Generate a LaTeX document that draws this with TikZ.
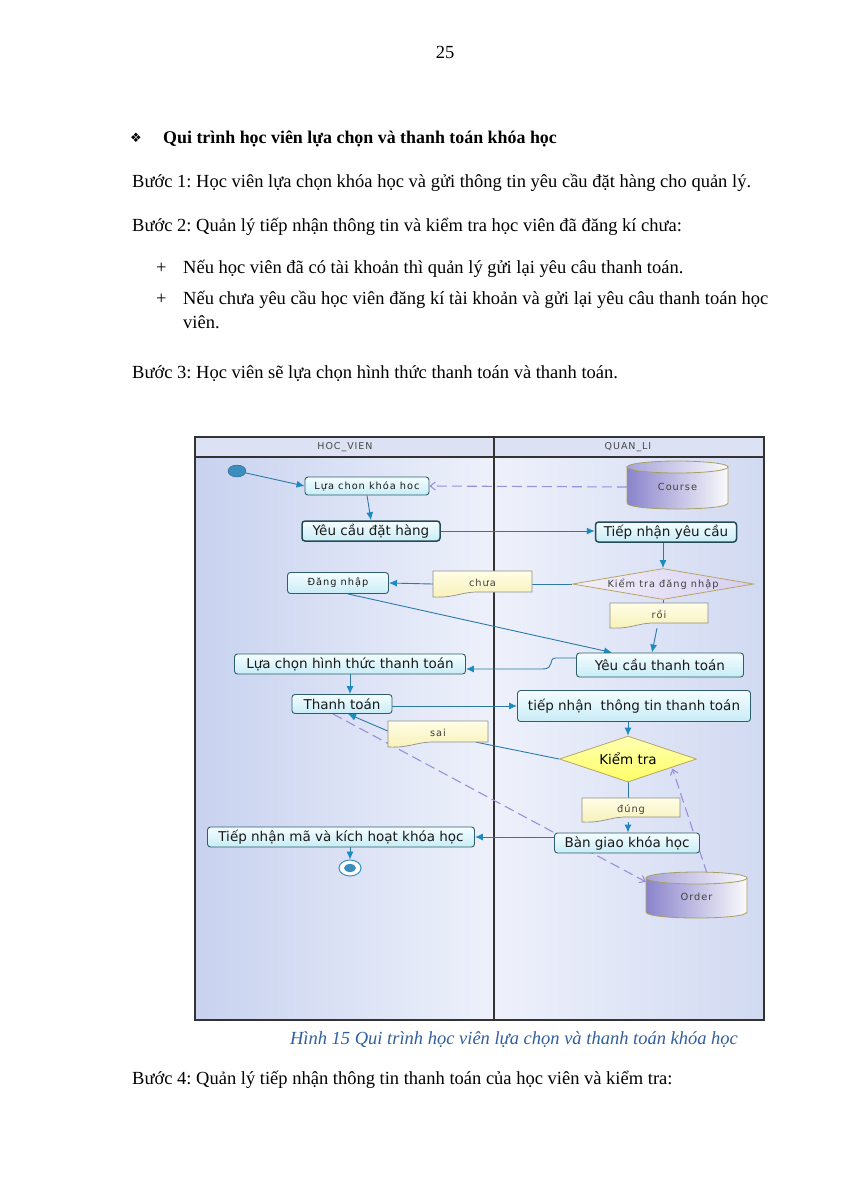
\documentclass[tikz,border=0pt]{standalone}
\usepackage{fontspec}
\setmainfont{Liberation Serif}
\newfontfamily\dia{DejaVu Sans}
\newfontfamily\diasmall[LetterSpace=10]{DejaVu Sans}
\newfontfamily\symf{DejaVu Sans}
\usetikzlibrary{shapes.geometric,arrows.meta,calc}
\pgfdeclarelayer{lanes}
\pgfdeclarelayer{wires}
\pgfsetlayers{lanes,wires,main}
\frenchspacing
\definecolor{laneA}{HTML}{C8D2EF}
\definecolor{laneB}{HTML}{EEF1FB}
\definecolor{hdr}{HTML}{DCE2F4}
\definecolor{frameC}{HTML}{333333}
\definecolor{wire}{HTML}{2C78A8}
\definecolor{arrowc}{HTML}{1C8BC0}
\definecolor{dashc}{HTML}{9A8FD8}
\definecolor{boxT}{HTML}{F4FDFF}
\definecolor{boxB}{HTML}{C8ECF6}
\definecolor{boxD}{HTML}{2E5E6C}
\definecolor{noteT}{HTML}{FFFDE6}
\definecolor{noteB}{HTML}{F7F1B8}
\definecolor{noteD}{HTML}{8E8E8E}
\definecolor{cylL}{HTML}{8A84CC}
\definecolor{cylR}{HTML}{FAFAFC}
\definecolor{cylB}{HTML}{A89E62}
\definecolor{diaB}{HTML}{B8A464}
\definecolor{lavL}{HTML}{F3F0FA}
\definecolor{lavR}{HTML}{D6CFF0}
\definecolor{capc}{HTML}{2F5F9E}
\definecolor{startc}{HTML}{3C8EC0}
\newcommand\notebox[6]{%
 \draw[notesh] (#2,#3) -- (#4,#3) -- (#4,{#5-5}) -- ({#2+0.45*(#4-#2)},{#5-5}) .. controls ({#2+0.28*(#4-#2)},{#5-5}) and ({#2+0.22*(#4-#2)},{#5+1}) .. (#2,#5) -- cycle;
 \node[notetxt, minimum width={#4-#2}, minimum height={#5-#3}] (#1) at ({(#2+#4)/2},{(#3+#5)/2}) {\raisebox{3pt}{#6}};}
\newcommand\cylbox[6]{%
 \shade[left color=cylL, right color=cylR, draw=cylB, line width=0.8pt] (#2,{#3+6}) -- (#2,{#5-6}) .. controls (#2,{#5+2}) and (#4,{#5+2}) .. (#4,{#5-6}) -- (#4,{#3+6}) -- cycle;
 \shade[left color=cylL!75, right color=cylR, draw=cylB, line width=0.8pt] ({(#2+#4)/2},{#3+6}) ellipse [x radius={(#4-#2)/2}, y radius=6];
 \node[cyltxt, minimum width={#4-#2}, minimum height={#5-#3}] (#1) at ({(#2+#4)/2},{(#3+#5)/2+2}) {#6};}
\tikzset{
 txt/.style={inner sep=0, anchor=base west, font=\fontsize{18.5}{22}\selectfont},
 bigf/.style={font=\dia\fontsize{13.5}{16}\selectfont},
 smallf/.style={font=\diasmall\fontsize{9.8}{12}\selectfont},
 abox/.style={rectangle, rounded corners=3pt, draw=boxD, line width=0.9pt, top color=boxT, bottom color=boxB, inner sep=0, text=black!90},
 thickbox/.style={abox, line width=1.5pt, draw=boxD!80!black},
 notesh/.style={draw=noteD, line width=0.7pt, top color=noteT, bottom color=noteB},
 notetxt/.style={inner sep=0, smallf, text=black!75},
 cyltxt/.style={inner sep=0, smallf, text=black!75},
 hdrtxt/.style={inner sep=0, font=\diasmall\fontsize{9.5}{11}\selectfont, text=black!72},
 flow/.style={draw=wire, line width=0.9pt, -{Latex[length=8pt,width=7pt,color=arrowc]}},
 plain/.style={draw=wire, line width=0.9pt},
 dep/.style={draw=dashc, line width=1.1pt, dash pattern=on 10pt off 5pt, -{Straight Barb[length=5pt,width=8pt]}},
 frame/.style={draw=frameC, line width=1.1pt}
}
\begin{document}
\begin{tikzpicture}[x=1pt,y=-1pt]
\useasboundingbox (0,0) rectangle (848,1200);
\begin{pgfonlayer}{lanes}
 \fill[white] (0,0) rectangle (848,1200);
 \shade[left color=laneA, right color=laneB] (195,457) rectangle (494,1020);
 \shade[left color=laneB, right color=laneA!75!laneB] (494,457) rectangle (764,1020);
 \fill[hdr] (195,437) rectangle (764,457);
 \draw[frame] (195,437) rectangle (764,1020);
 \draw[frame] (195,457) -- (764,457);
 \draw[frame] (494,437) -- (494,1020);
\end{pgfonlayer}

% ---------- page text ----------
\node[txt, anchor=base] (pg) at (445,58) {25};
\node[txt, font=\symf\fontsize{13}{15}\selectfont] (hsym) at (130,142) {❖};
\node[txt, font=\bfseries\fontsize{17.9}{22}\selectfont] (head) at (163,143) {Qui trình học viên lựa chọn và thanh toán khóa học};
\node[txt] (b1) at (132,187) {Bước 1: Học viên lựa chọn khóa học và gửi thông tin yêu cầu đặt hàng cho quản lý.};
\node[txt] (b2) at (132,231) {Bước 2: Quản lý tiếp nhận thông tin và kiểm tra học viên đã đăng kí chưa:};
\node[txt] (p1) at (156,273) {+};
\node[txt] (l1) at (183,273) {Nếu học viên đã có tài khoản thì quản lý gửi lại yêu câu thanh toán.};
\node[txt] (p2) at (156,304) {+};
\node[txt] (l2) at (183,304) {\makebox[585pt][s]{Nếu chưa yêu cầu học viên đăng kí tài khoản và gửi lại yêu câu thanh toán học}};
\node[txt] (l3) at (183,328) {viên.};
\node[txt] (b3) at (132,378) {Bước 3: Học viên sẽ lựa chọn hình thức thanh toán và thanh toán.};
\node[txt, anchor=base, font=\itshape\fontsize{18.5}{22}\selectfont, text=capc] (cap) at (514,1044) {Hình 15 Qui trình học viên lựa chọn và thanh toán khóa học};
\node[txt] (b4) at (132,1084) {Bước 4: Quản lý tiếp nhận thông tin thanh toán của học viên và kiểm tra:};

% ---------- diagram ----------
\node[hdrtxt] (h1) at (345,447) {HOC\_VIEN};
\node[hdrtxt] (h2) at (628,447) {QUAN\_LI};

\node[ellipse, draw=startc!70!black, fill=startc, minimum width=18, minimum height=12, inner sep=0] (start) at (237,471) {};
\node[abox, smallf, minimum width=124, minimum height=18] (lc) at (367,486) {Lựa chon khóa hoc};
\cylbox{course}{627}{461}{728}{509}{Course}
\node[thickbox, bigf, minimum width=138, minimum height=20] (ycdh) at (371,531) {Yêu cầu đặt hàng};
\node[thickbox, bigf, minimum width=141, minimum height=20] (tnyc) at (666,532) {Tiếp nhận yêu cầu};
\node[diamond, aspect=6, inner sep=0, minimum width=181, minimum height=31, draw=diaB, line width=0.8pt, left color=lavL, right color=lavR, smallf, text=black!75] (ktdn) at (663,584) {Kiểm tra đăng nhập};
\notebox{chua}{433}{571}{532}{597}{chưa}
\node[abox, smallf, minimum width=101, minimum height=21] (dn) at (338,583) {Đăng nhập};
\notebox{roi}{610}{603}{708}{628}{rồi}
\node[abox, bigf, minimum width=167, minimum height=24] (yctt) at (660,665) {Yêu cầu thanh toán};
\node[abox, bigf, minimum width=231, minimum height=20] (lchttt) at (350,664) {Lựa chọn hình thức thanh toán};
\node[abox, bigf, minimum width=100, minimum height=19] (tt) at (342,704) {Thanh toán};
\node[abox, bigf, minimum width=233, minimum height=31] (tntt) at (634,706) {tiếp nhận\ \ thông tin thanh toán};
\node[diamond, aspect=3, inner sep=0, minimum width=137, minimum height=46, draw=diaB, line width=0.8pt, top color=yellow!30, bottom color=yellow!60, bigf] (kt) at (628,759) {Kiểm tra};
\notebox{sai}{388}{721}{488}{747}{sai}
\notebox{dung}{582}{798}{680}{822}{đúng}
\node[abox, bigf, minimum width=267, minimum height=20] (tnm) at (341,837) {Tiếp nhận mã và kích hoạt khóa học};
\node[abox, bigf, minimum width=145, minimum height=20] (bg) at (627,843) {Bàn giao khóa học};
\node[ellipse, draw=startc, line width=1pt, fill=white, minimum width=22, minimum height=16, inner sep=0] (endn) at (350,868) {};
\node[ellipse, fill=startc, minimum width=12, minimum height=8, inner sep=0] (endi) at (endn.center) {};
\cylbox{order}{646}{872}{747}{918}{Order}

\begin{pgfonlayer}{wires}
 \draw[flow] (start) -- (lc.west);
 \draw[flow] (lc.south) -- (ycdh.north);
 \draw[dep] (course.west) -- (lc.east);
 \draw[flow] (ycdh.east) -- (ycdh.east -| tnyc.west);
 \draw[flow] (ktdn.north |- tnyc.south) -- (ktdn.north);
 \draw[plain] (ktdn.west) -- (chua.east);
 \draw[flow] (chua.west) -- (dn.east);
 \draw[plain] (ktdn.south) -- (ktdn.south |- roi.north);
 \draw[flow] ([xshift=-2]roi.south) -- ([xshift=-8]yctt.north);
 \draw[flow] ([xshift=10]dn.south) -- ([xshift=-48]yctt.north);
 \draw[flow] ([yshift=7]yctt.west) -- ++(-20,0) .. controls ++(-9,0) and ([xshift=14,yshift=-5]lchttt.east -| 542,0) .. ([yshift=-5]lchttt.east -| 542,0) -- ([yshift=-5]lchttt.east);
 \draw[flow] (lchttt.south -| tt.north) ++(8,0) -- ([xshift=8]tt.north);
 \draw[flow] ([yshift=-2]tt.east) -- ([yshift=-2]tt.east -| tntt.west);
 \draw[flow] (kt.north |- tntt.south) -- (kt.north);
 \draw[plain] (kt.west) -- ([xshift=-12,yshift=5]sai.south east);
 \draw[flow] ([yshift=3]sai.west) -- ([xshift=6]tt.south);
 \draw[plain] (kt.south) -- (kt.south |- dung.north);
 \draw[flow] (dung.south -| kt.south) -- (bg.north -| kt.south);
 \draw[flow] (bg.west |- tnm.east) -- (tnm.east);
 \draw[flow] (endn.north |- tnm.south) -- (endn.north);
 \draw[dep] ([xshift=-9]tt.south) -- ([yshift=-8]order.north west);
 \draw[dep] ([xshift=-40]order.north east) -- ([xshift=10,yshift=2]kt.south east);
\end{pgfonlayer}
\end{tikzpicture}
\end{document}
